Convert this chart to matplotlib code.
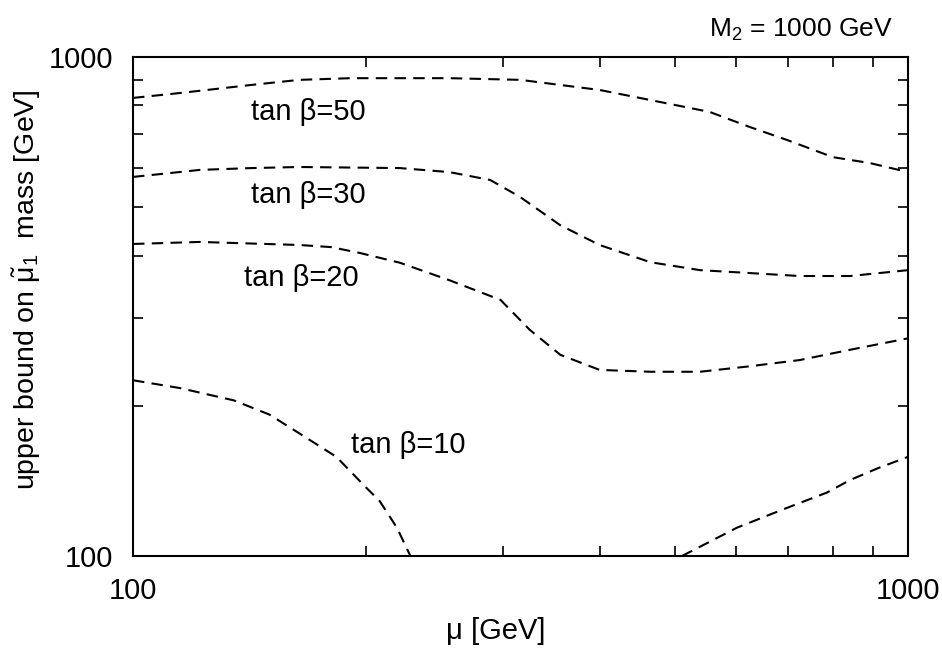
import matplotlib
matplotlib.use("Agg")
import matplotlib.pyplot as plt
from matplotlib.ticker import LogLocator, NullFormatter, FixedFormatter, FixedLocator

plt.rcParams['font.family'] = ['Liberation Sans', 'DejaVu Sans']
plt.rcParams['mathtext.fontset'] = 'custom'
plt.rcParams['mathtext.rm'] = 'Liberation Sans'
plt.rcParams['mathtext.it'] = 'Liberation Sans'

# values (mu in GeV, upper bound in GeV)
mu_tb50 = [100, 115, 142, 164, 191, 256, 316, 356, 400, 465, 555, 625, 698, 800, 893, 1000]
m_tb50 = [828, 847, 879, 900, 907, 907, 900, 879, 859, 820, 776, 724, 682, 630, 613, 588]

mu_tb30 = [100, 122, 142, 164, 221, 256, 289, 316, 356, 400, 465, 539, 625, 725, 842, 1000]
m_tb30 = [575, 594, 599, 602, 599, 588, 567, 524, 460, 420, 388, 374, 369, 364, 364, 374]

mu_tb20 = [100, 122, 164, 180, 196, 221, 256, 298, 325, 356, 400, 465, 539, 625, 725, 842, 1000]
m_tb20 = [422, 426, 420, 416, 405, 387, 357, 326, 284, 253, 236, 234, 234, 240, 247, 259, 273]

mu_tb10 = [100, 115, 135, 150, 164, 183, 200, 208, 219, 228]
m_tb10 = [225, 217, 205, 192, 176, 158, 137, 129, 114, 100]

mu_low = [511, 602, 690, 786, 842, 915, 1000]
m_low = [100, 114, 124, 134, 142, 150, 158]

labels = ['tan β=50', 'tan β=30', 'tan β=20', 'tan β=10']
label_mu = [142, 142, 139, 191]
label_m = [776, 529, 361, 167]

fig = plt.figure(figsize=(9.42, 6.48), dpi=100)
ax = fig.add_axes([0.1412, 0.142, 0.8227, 0.770])

dash = (0, (5.5, 3.5))
for xs, ys in [(mu_tb50, m_tb50), (mu_tb30, m_tb30), (mu_tb20, m_tb20),
               (mu_tb10, m_tb10), (mu_low, m_low)]:
    ax.plot(xs, ys, color='black', lw=1.5, linestyle=dash)

for t, x, y in zip(labels, label_mu, label_m):
    ax.text(x, y, t, fontsize=21, ha='left', va='center')

ax.set_xscale('log')
ax.set_yscale('log')
ax.set_xlim(100, 1000)
ax.set_ylim(100, 1000)

for axis in (ax.xaxis, ax.yaxis):
    axis.set_major_locator(FixedLocator([100, 1000]))
    axis.set_major_formatter(FixedFormatter(['100', '1000']))
    axis.set_minor_locator(LogLocator(base=10, subs=range(2, 10)))
    axis.set_minor_formatter(NullFormatter())

ax.tick_params(which='both', direction='in', top=True, right=True, width=1.2)
ax.tick_params(which='major', length=12, labelsize=21)
ax.tick_params(which='minor', length=7)
ax.tick_params(axis='x', which='major', pad=15)
ax.tick_params(axis='y', which='major', pad=14)
for s in ax.spines.values():
    s.set_linewidth(1.5)

ax.set_ylabel(r'upper bound on $\tilde{\mu}_1$  mass [GeV]', fontsize=20.5)
ax.yaxis.set_label_coords(-0.116, 0.533)
ax.set_xlabel('μ [GeV]', fontsize=21)
ax.xaxis.set_label_coords(0.468, -0.122)

ax.text(0.981, 1.054, r'M$_2$ = 1000 GeV', transform=ax.transAxes,
        ha='right', va='center', fontsize=19)

fig.savefig('out.png', dpi=100)
